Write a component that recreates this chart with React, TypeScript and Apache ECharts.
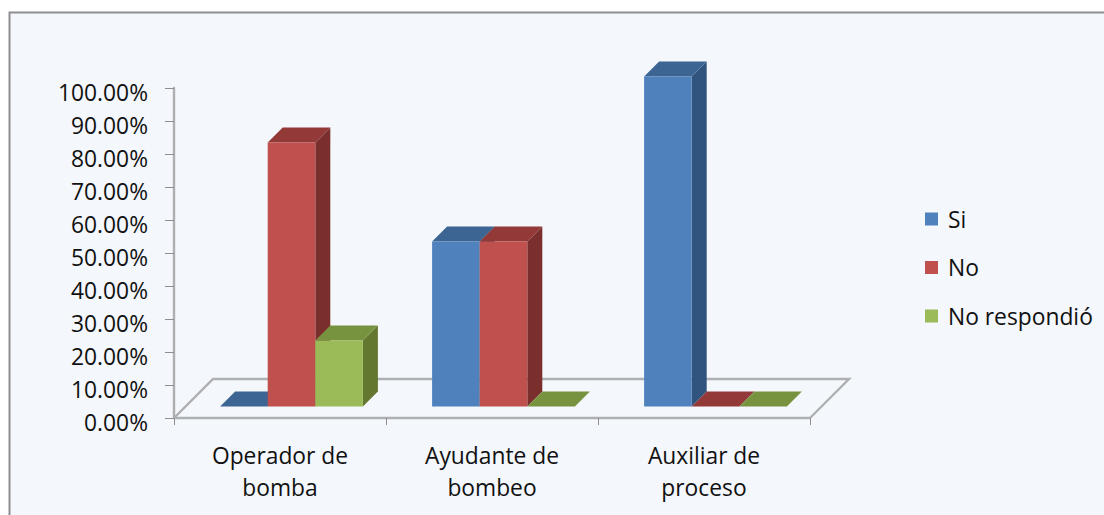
import React, { useEffect, useRef } from "react";
import * as echarts from "echarts";

const categories = ["Operador de\nbomba", "Ayudante de\nbombeo", "Auxiliar de\nproceso"];
const seriesNames = ["Si", "No", "No respondió"];
const siValues = [0, 50, 100];
const noValues = [80, 50, 0];
const noRespondioValues = [20, 0, 0];
const axisTicks = { min: 0, max: 100, interval: 10 };

const FONT = "Open Sans";
const FONT_SIZE = 22.8;
const BAR_SHARE = 0.2245; // bar width as a share of one category band
const DEPTH = 15; // extrusion of a bar towards the back
const FLOOR_DEPTH = 39; // extrusion of the floor towards the back
const BASE_SHIFT = 11.5; // bars stand this far inside the floor
const GREY = "#adafb1";

const palettes = [
  { front: "#4f81bd", top: "#3c6593", side: "#31547f" },
  { front: "#c0504d", top: "#933a38", side: "#7b2f2d" },
  { front: "#9bbb59", top: "#789340", side: "#64772f" },
];

function barSeries(name: string, values: number[], slot: number) {
  const colors = palettes[slot];
  return {
    type: "custom",
    name,
    coordinateSystem: "cartesian2d",
    itemStyle: { color: colors.front },
    z: 3 + slot,
    encode: { x: 0, y: 1 },
    data: values.map((v, i) => [i, v]),
    renderItem: (_params: any, api: any) => {
      const top = api.coord([api.value(0), api.value(1)]);
      const zero = api.coord([api.value(0), 0]);
      const band = api.size([1, 0])[0];
      const w = band * BAR_SHARE;
      const x0 = top[0] - 1.5 * w + slot * w + BASE_SHIFT;
      const x1 = x0 + w;
      const yTop = top[1] - BASE_SHIFT;
      const yBase = zero[1] - BASE_SHIFT;
      const poly = (points: number[][], fill: string) => ({
        type: "polygon",
        shape: { points },
        style: { fill, stroke: null },
      });
      const faces: any[] = [
        poly(
          [[x1, yTop], [x1 + DEPTH, yTop - DEPTH], [x1 + DEPTH, yBase - DEPTH], [x1, yBase]],
          colors.side
        ),
        poly(
          [[x0, yTop], [x0 + DEPTH, yTop - DEPTH], [x1 + DEPTH, yTop - DEPTH], [x1, yTop]],
          colors.top
        ),
      ];
      if (yBase > yTop) {
        faces.push(poly([[x0, yTop], [x1, yTop], [x1, yBase], [x0, yBase]], colors.front));
      }
      return { type: "group", children: faces };
    },
  };
}

const floorSeries = {
  type: "custom",
  name: "floor",
  coordinateSystem: "cartesian2d",
  silent: true,
  z: 1,
  encode: { x: 0, y: 1 },
  data: [[0, 0]],
  renderItem: (params: any) => {
    const { x, y, width, height } = params.coordSys;
    const b = y + height;
    return {
      type: "polyline",
      shape: {
        points: [
          [x, b],
          [x + FLOOR_DEPTH, b - FLOOR_DEPTH],
          [x + width + FLOOR_DEPTH, b - FLOOR_DEPTH],
          [x + width, b],
        ],
      },
      style: { fill: null, stroke: GREY, lineWidth: 2.4 },
    };
  },
};

export default function App() {
  const ref = useRef<HTMLDivElement>(null);

  useEffect(() => {
    document.body.style.margin = "0";
    document.body.style.overflow = "hidden";
    const chart = echarts.init(ref.current!, null, { renderer: "svg" });
    chart.setOption({
      animation: false,
      textStyle: { fontFamily: FONT },
      grid: { left: 174, top: 88, width: 636, height: 330 },
      graphic: [
        {
          type: "rect",
          silent: true,
          z: -1,
          shape: { x: 9.5, y: 12.5, width: 1200, height: 600 },
          style: { fill: "#f4f7fc", stroke: "#8e8e8e", lineWidth: 2 },
        },
      ],
      legend: {
        orient: "vertical",
        left: 925,
        top: 206,
        padding: 0,
        itemWidth: 13,
        itemHeight: 13,
        itemGap: 22.5,
        data: seriesNames,
        icon: "rect",
        selectedMode: false,
        textStyle: { fontFamily: FONT, fontSize: FONT_SIZE, color: "#111111", lineHeight: 26, padding: [0, 0, 0, 5] },
      },
      xAxis: {
        type: "category",
        data: categories,
        boundaryGap: true,
        axisLine: { lineStyle: { color: GREY, width: 2.4 } },
        axisTick: { show: true, alignWithLabel: false, length: 7, lineStyle: { color: "#8e8e8e", width: 1 } },
        axisLabel: { fontFamily: FONT, fontSize: FONT_SIZE, color: "#111111", lineHeight: 32, margin: 21, interval: 0 },
      },
      yAxis: {
        type: "value",
        min: axisTicks.min,
        max: axisTicks.max,
        interval: axisTicks.interval,
        splitLine: { show: false },
        axisLine: { show: true, lineStyle: { color: GREY, width: 2.4 } },
        axisTick: { show: true, length: 9, lineStyle: { color: "#8e8e8e", width: 1 } },
        axisLabel: {
          fontFamily: FONT,
          fontSize: FONT_SIZE,
          color: "#111111",
          margin: 26,
          verticalAlign: "top",
          lineHeight: 8,
          formatter: (v: number) => `${v.toFixed(2)}%`,
        },
      },
      series: [
        floorSeries,
        barSeries(seriesNames[0], siValues, 0),
        barSeries(seriesNames[1], noValues, 1),
        barSeries(seriesNames[2], noRespondioValues, 2),
      ],
    });
    return () => chart.dispose();
  }, []);

  return <div ref={ref} style={{ width: 1104, height: 515 }} />;
}
